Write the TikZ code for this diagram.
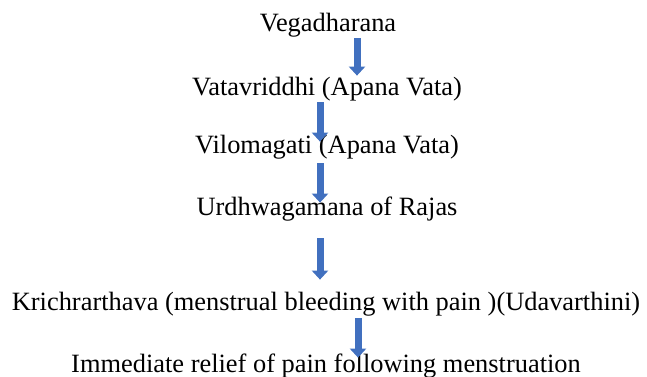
\documentclass[tikz,border=0pt]{standalone}
\usepackage{fontspec}
\setmainfont{Liberation Serif}
\usepackage{tikz}
\usetikzlibrary{arrows.meta}
\definecolor{arrowblue}{HTML}{4170BF}

\begin{document}
\begin{tikzpicture}[
    x=0.5pt, y=-0.5pt,
    lbl/.style={anchor=base, inner sep=0pt, font=\fontsize{13.2}{15}\selectfont,
        text height=9pt, text depth=2.85pt},
    blockarr/.style={arrowblue, line width=3.5pt,
        -{Triangle[width=8pt, length=4.5pt]}}
    ]
    \useasboundingbox (0,0) rectangle (647,376);
    \node[lbl] (veg)   at (328,31)  {Vegadharana};
    \node[lbl] (vata)  at (327,95)  {Vatavriddhi (Apana Vata)};
    \node[lbl] (vilo)  at (327,153) {Vilomagati (Apana Vata)};
    \node[lbl] (urdh)  at (327,215) {Urdhwagamana of Rajas};
    \node[lbl] (krich) at (326,310) {Krichrarthava (menstrual bleeding with pain )(Udavarthini)};
    \node[lbl] (imm)   at (326,372) {Immediate relief of pain following menstruation};
    \draw[blockarr, shorten <=0.6pt, shorten >=0.5pt] ([xshift=14.5pt]veg.south) -- ([xshift=15pt]vata.north);
    \draw[blockarr, shorten <=0.6pt, shorten >=-3.5pt] ([xshift=-3.5pt]vata.south) -- ([xshift=-3.5pt]vilo.north);
    \draw[blockarr, shorten <=2.1pt, shorten >=-3pt] ([xshift=-3.5pt]vilo.south) -- ([xshift=-3.5pt]urdh.north);
    \draw[blockarr, shorten <=8.6pt, shorten >=6pt] ([xshift=-3.5pt]urdh.south) -- ([xshift=-3pt]krich.north);
    \draw[blockarr, shorten <=1.1pt, shorten >=-2pt] ([xshift=16pt]krich.south) -- ([xshift=16pt]imm.north);
\end{tikzpicture}
\end{document}
